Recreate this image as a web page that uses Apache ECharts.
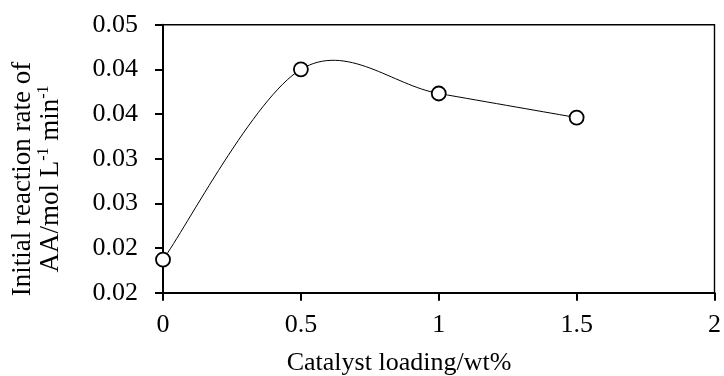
<!DOCTYPE html>
<html>
<head>
<meta charset="utf-8">
<script src="https://cdn.jsdelivr.net/npm/echarts@6/dist/echarts.min.js"></script>
<style>
html,body{margin:0;padding:0;background:#fff;}
#chart{width:724px;height:376px;}
</style>
</head>
<body>
<div id="chart"></div>
<script>
// Data
var catalystLoading = [0, 0.5, 1, 1.5];            // wt%
var initialRate = [0.0237, 0.0450, 0.0423, 0.0396]; // mol L-1 min-1
var xTickLabels = ['0', '0.5', '1', '1.5', '2'];
var yTickLabels = ['0.02', '0.02', '0.03', '0.03', '0.04', '0.04', '0.05'];
var xTitle = 'Catalyst loading/wt%';
var yTitleLine1 = 'Initial reaction rate of';
var yTitleLine2 = ['AA/mol L', '-1', ' min', '-1'];

var FONT = '"Liberation Serif", "Times New Roman", serif';
var FS = 26;

var chart = echarts.init(document.getElementById('chart'), null, {renderer: 'canvas'});
var pts = catalystLoading.map(function (x, i) { return [x, initialRate[i]]; });

// Spreadsheet-style smoothed line: each item draws the cubic Bezier segment
// from point i to point i+1, with control points derived (in pixel space,
// via the axis scales) from the neighbouring data points.
function renderSegment(params, api) {
  var i = params.dataIndex;
  var n = pts.length;
  if (i >= n - 1) return null;
  var c = pts.map(function (p) { return api.coord(p); });
  var p0 = c[Math.max(i - 1, 0)];
  var p1 = c[i];
  var p2 = c[i + 1];
  var p3 = c[Math.min(i + 2, n - 1)];
  var k = 1 / 6;
  return {
    type: 'bezierCurve',
    shape: {
      x1: p1[0], y1: p1[1],
      cpx1: p1[0] + (p2[0] - p0[0]) * k, cpy1: p1[1] + (p2[1] - p0[1]) * k,
      cpx2: p2[0] - (p3[0] - p1[0]) * k, cpy2: p2[1] - (p3[1] - p1[1]) * k,
      x2: p2[0], y2: p2[1]
    },
    style: {stroke: '#000', fill: null, lineWidth: 1}
  };
}

chart.setOption({
  animation: false,
  backgroundColor: '#fff',
  grid: {
    left: 163, right: 4, top: 24.7, bottom: 83.3,
    show: true, borderColor: '#000', borderWidth: 1.4, backgroundColor: 'transparent'
  },
  xAxis: {
    type: 'value', min: 0, max: 2, interval: 0.5,
    axisLine: {show: true, onZero: false, lineStyle: {color: '#000', width: 2}},
    axisTick: {show: true, inside: false, length: 8, lineStyle: {color: '#000', width: 2}},
    splitLine: {show: false},
    axisLabel: {
      margin: 19, color: '#000', fontFamily: FONT, fontSize: FS,
      formatter: function (v) { return xTickLabels[Math.round(v / 0.5)]; }
    }
  },
  yAxis: {
    type: 'value', min: 0.02, max: 0.05, interval: 0.005,
    axisLine: {show: true, onZero: false, lineStyle: {color: '#000', width: 2}},
    axisTick: {show: true, inside: false, length: 8, lineStyle: {color: '#000', width: 2}},
    splitLine: {show: false},
    axisLabel: {
      margin: 25, color: '#000', fontFamily: FONT, fontSize: FS,
      formatter: function (v) { return yTickLabels[Math.round((v - 0.02) / 0.005)]; }
    }
  },
  series: [
    {
      type: 'custom',
      data: pts,
      encode: {x: 0, y: 1},
      renderItem: renderSegment,
      clip: false,
      silent: true,
      z: 2
    },
    {
      type: 'scatter',
      data: pts,
      symbol: 'circle',
      symbolSize: 14,
      itemStyle: {color: '#fff', borderColor: '#000', borderWidth: 1.8, opacity: 1},
      z: 3
    }
  ],
  graphic: [
    {
      type: 'text',
      x: 399, y: 363,
      style: {
        text: xTitle, fill: '#000', font: FS + 'px ' + FONT,
        align: 'center', verticalAlign: 'middle'
      }
    },
    {
      type: 'text',
      x: 36, y: 179,
      rotation: Math.PI / 2,
      style: {
        text: '{a|' + yTitleLine1 + '}\n{a|' + yTitleLine2[0] + '}{s|' + yTitleLine2[1] + '}{a|' + yTitleLine2[2] + '}{s|' + yTitleLine2[3] + '}',
        fill: '#000',
        align: 'center', verticalAlign: 'middle',
        rich: {
          a: {fontFamily: FONT, fontSize: 27, lineHeight: 28, fill: '#000', verticalAlign: 'bottom'},
          s: {fontFamily: FONT, fontSize: 16, lineHeight: 16, fill: '#000', verticalAlign: 'top'}
        }
      }
    }
  ]
});
</script>
</body>
</html>
